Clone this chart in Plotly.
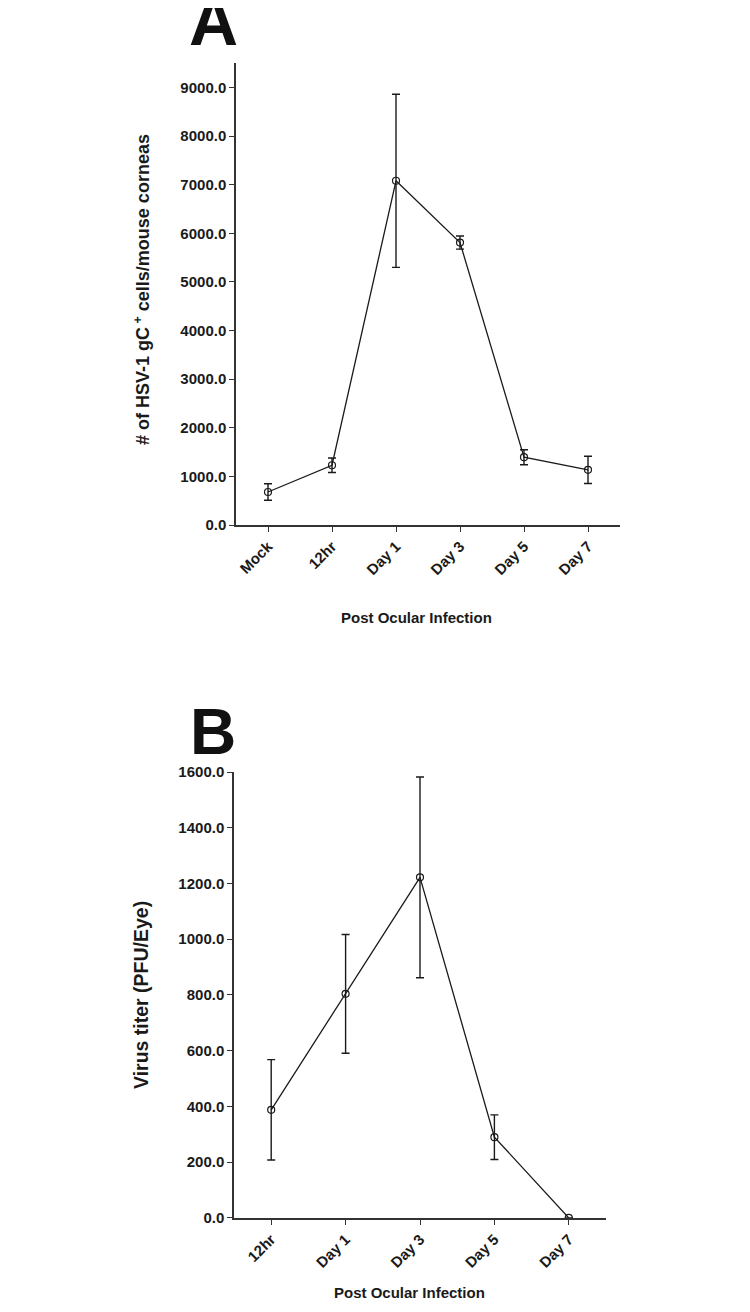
import plotly.graph_objects as go

# The page body has an 8px default margin, so the figure is sized to fit the window exactly.
PAGE_W, PAGE_H, OFF = 750, 1312, 8
W, H = PAGE_W - 2 * OFF, PAGE_H - 2 * OFF

# Panel A data
cats_a = ["Mock", "12hr", "Day 1", "Day 3", "Day 5", "Day 7"]
vals_a = [680, 1230, 7080, 5810, 1395, 1135]
err_a = [170, 150, 1780, 135, 155, 280]
yticks_a = [0, 1000, 2000, 3000, 4000, 5000, 6000, 7000, 8000, 9000]

# Panel B data
cats_b = ["12hr", "Day 1", "Day 3", "Day 5", "Day 7"]
vals_b = [388, 804, 1222, 290, 0]
err_b = [180, 213, 360, 80, 0]
yticks_b = [0, 200, 400, 600, 800, 1000, 1200, 1400, 1600]

# empirical correction between requested and photographed vertical positions
VS, VC = 0.987, 8.0
HC = 1.0


def px_x(p):
    return (p + HC - OFF) / W


def px_y(p):
    q = (p - VC) / VS
    return 1 - (q - OFF) / H


FONT = "Liberation Sans, Arial, sans-serif"
INK = "#1a1a1a"

fig = go.Figure()

common_marker = dict(symbol="circle-open", size=7, color=INK, line=dict(width=1.2, color=INK))

fig.add_trace(go.Scatter(
    x=list(range(len(cats_a))), y=vals_a, mode="lines+markers",
    line=dict(color=INK, width=1.3), marker=common_marker,
    error_y=dict(type="data", array=err_a, visible=True, color=INK, thickness=1.4, width=4),
    xaxis="x", yaxis="y", showlegend=False,
))
fig.add_trace(go.Scatter(
    x=list(range(len(cats_b))), y=vals_b, mode="lines+markers",
    line=dict(color=INK, width=1.3), marker=common_marker,
    error_y=dict(type="data", array=err_b, visible=True, color=INK, thickness=1.4, width=4),
    xaxis="x2", yaxis="y2", showlegend=False,
))

tickfont = dict(family=FONT, size=15, color=INK, weight="bold")
axis_common = dict(showline=True, linecolor="#333", linewidth=1.5, showgrid=False, zeroline=False,
                   ticks="outside", ticklen=5, tickwidth=1.3, tickcolor="#333", tickfont=tickfont)

fig.update_layout(
    width=W, height=H, margin=dict(l=0, r=0, t=0, b=0),
    paper_bgcolor="white", plot_bgcolor="white",
    xaxis=dict(domain=[px_x(235), px_x(619)], anchor="y", range=[-0.5, 5.5],
               tickmode="array", tickvals=list(range(len(cats_a))), ticktext=cats_a,
               tickangle=-45, **axis_common),
    yaxis=dict(domain=[px_y(524), px_y(62)], anchor="x", range=[0, 9500],
               tickmode="array", tickvals=yticks_a, ticktext=[f"{v:.1f}" for v in yticks_a],
               **axis_common),
    xaxis2=dict(domain=[px_x(233), px_x(605)], anchor="y2", range=[-0.5, 4.5],
                tickmode="array", tickvals=list(range(len(cats_b))), ticktext=cats_b,
                tickangle=-45, **axis_common),
    yaxis2=dict(domain=[px_y(1217), px_y(771)], anchor="x2", range=[0, 1600],
                tickmode="array", tickvals=yticks_b, ticktext=[f"{v:.1f}" for v in yticks_b],
                **axis_common),
)

titlefont = dict(family=FONT, size=15, color=INK, weight="bold")
ann = []
ann.append(dict(text="A", x=px_x(212), y=px_y(20), xref="paper", yref="paper", showarrow=False,
                font=dict(family=FONT, size=68, color="#111", weight="bold"), xanchor="center", yanchor="middle"))
ann.append(dict(text="B", x=px_x(212), y=px_y(731), xref="paper", yref="paper", showarrow=False,
                font=dict(family=FONT, size=64, color="#111", weight="bold"), xanchor="center", yanchor="middle"))
ann.append(dict(text="# of HSV-1 gC<sup> +</sup> cells/mouse corneas", x=px_x(141), y=px_y(289),
                xref="paper", yref="paper", showarrow=False, textangle=-90,
                font=dict(family=FONT, size=18, color=INK, weight="bold"), xanchor="center", yanchor="middle"))
ann.append(dict(text="Post Ocular Infection", x=px_x(415), y=px_y(616), xref="paper", yref="paper",
                showarrow=False, font=titlefont, xanchor="center", yanchor="middle"))
ann.append(dict(text="Virus titer (PFU/Eye)", x=px_x(140), y=px_y(994),
                xref="paper", yref="paper", showarrow=False, textangle=-90,
                font=dict(family=FONT, size=19.5, color=INK, weight="bold"), xanchor="center", yanchor="middle"))
ann.append(dict(text="Post Ocular Infection", x=px_x(408), y=px_y(1292), xref="paper", yref="paper",
                showarrow=False, font=titlefont, xanchor="center", yanchor="middle"))
fig.update_layout(annotations=ann)

fig.write_html("out.html")
